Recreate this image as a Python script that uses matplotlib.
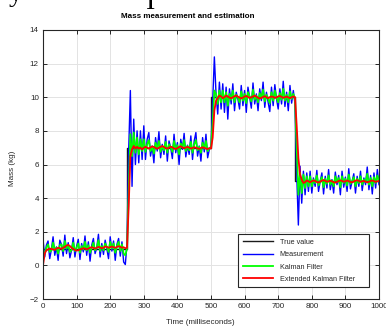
import numpy as np
import matplotlib.pyplot as plt

# sample period of the logged series (ms)
DT = 5

# true mass: step levels and the times they start
true_t = [0, 250, 500, 750, 1000]
true_v = [1, 7, 10, 5, 5]

# noisy measurement, one value every DT ms from 0 to 1000
measurement = [
    1.60, 0.50, 1.20, 1.45, 0.40, 0.95, 1.70, 0.60, 1.10, 0.30,
    1.50, 1.25, 0.55, 1.80, 0.70, 1.35, 0.45, 0.90, 1.65, 0.50,
    1.15, 1.55, 0.35, 1.30, 0.80, 1.75, 0.60, 1.40, 0.25, 1.20,
    1.60, 0.70, 1.05, 1.85, 0.50, 1.30, 0.65, 1.50, 1.00, 0.40,
    1.70, 0.85, 1.45, 0.30, 1.25, 1.60, 0.55, 1.40, 0.20, 0.05,
    1.30, 6.80, 10.4, 4.70, 8.70, 6.00, 8.00, 6.10, 8.00, 6.30, 8.30,
    6.30, 7.50, 7.90, 6.50, 7.10, 6.10, 7.60, 6.80, 7.95, 6.40,
    7.20, 6.60, 7.70, 6.20, 7.40, 7.00, 6.35, 7.80, 6.70, 7.30,
    6.00, 7.50, 6.90, 7.85, 6.45, 7.15, 6.60, 7.70, 6.30, 7.40,
    7.90, 6.50, 7.10, 6.20, 7.60, 6.75, 7.80, 6.40, 6.90,
    7.10, 9.80, 12.4, 10.2, 9.00, 10.9, 9.30, 10.8, 9.10, 10.6,
    8.70, 10.5, 9.60, 10.8, 9.20, 10.3, 9.90, 9.30, 10.7, 9.50,
    10.4, 9.10, 10.6, 10.0, 9.35, 10.85, 9.60, 10.2, 9.20, 10.5,
    9.80, 10.9, 9.40, 10.3, 9.70, 9.15, 10.6, 9.50, 10.75, 9.90,
    9.30, 10.5, 9.60, 10.95, 9.45, 10.3, 9.20, 10.7, 9.65, 10.4,
    9.60, 5.50, 2.40, 5.90, 3.70, 5.60, 4.20, 5.50, 4.40, 5.60,
    4.30, 5.20, 4.70, 5.65, 4.40, 5.00, 5.50, 4.25, 5.30, 4.60,
    5.70, 4.50, 5.10, 4.30, 5.55, 4.80, 5.35, 4.20, 5.60, 4.65,
    5.25, 4.40, 5.75, 4.55, 5.00, 5.45, 4.30, 5.30, 4.70, 5.60,
    4.45, 5.20, 4.80, 5.85, 4.50, 5.35, 4.25, 5.50, 4.60, 5.70, 4.80,
]

# Kalman filter estimate, same sampling
kalman = [
    0.30, 0.75, 1.05, 1.25, 0.80, 0.90, 1.35, 0.95, 1.05, 0.70,
    1.20, 1.25, 0.85, 1.45, 1.00, 1.20, 0.80, 0.90, 1.35, 0.85,
    1.05, 1.30, 0.75, 1.15, 0.95, 1.40, 0.90, 1.20, 0.75, 1.05,
    1.35, 0.90, 1.05, 1.50, 0.85, 1.15, 0.90, 1.30, 1.10, 0.80,
    1.40, 1.00, 1.30, 0.75, 1.15, 1.40, 0.85, 1.25, 0.70, 0.60,
    1.00, 4.50, 7.80, 6.50, 7.90, 6.70, 7.60, 6.60, 7.50, 6.80, 7.50,
    6.75, 7.20, 7.45, 6.80, 7.05, 6.65, 7.30, 6.95, 7.40, 6.75,
    7.10, 6.85, 7.35, 6.70, 7.20, 7.05, 6.75, 7.40, 6.90, 7.15,
    6.60, 7.25, 7.00, 7.45, 6.80, 7.10, 6.85, 7.35, 6.70, 7.20,
    7.45, 6.85, 7.05, 6.70, 7.30, 6.95, 7.40, 6.80, 6.95,
    7.00, 8.50, 10.4, 10.2, 9.60, 10.4, 9.70, 10.4, 9.70, 10.3,
    9.50, 10.2, 9.85, 10.4, 9.70, 10.15, 10.0, 9.70, 10.35, 9.80,
    10.2, 9.65, 10.3, 10.05, 9.75, 10.45, 9.85, 10.1, 9.70, 10.25,
    9.95, 10.45, 9.75, 10.15, 9.90, 9.65, 10.3, 9.80, 10.4, 10.0,
    9.70, 10.25, 9.85, 10.5, 9.80, 10.15, 9.70, 10.35, 9.90, 10.2,
    9.90, 7.00, 4.20, 5.50, 4.30, 5.40, 4.60, 5.30, 4.70, 5.30,
    4.70, 5.10, 4.90, 5.35, 4.75, 5.00, 5.25, 4.65, 5.15, 4.85,
    5.35, 4.80, 5.05, 4.70, 5.30, 4.95, 5.20, 4.65, 5.30, 4.90,
    5.15, 4.75, 5.40, 4.85, 5.00, 5.25, 4.70, 5.15, 4.90, 5.30,
    4.80, 5.10, 4.95, 5.45, 4.80, 5.20, 4.70, 5.25, 4.90, 5.35, 5.00,
]

# extended Kalman filter estimate, same sampling
ekf = [
    0.00, 0.70, 0.90, 0.95, 1.00, 0.98, 0.95, 0.92, 1.00, 1.05,
    1.02, 0.98, 1.05, 1.10, 1.18, 1.22, 1.15, 1.05, 0.98, 0.92,
    0.88, 0.90, 0.95, 0.98, 1.02, 1.00, 0.96, 1.00, 1.05, 1.08,
    1.04, 1.00, 1.05, 1.10, 1.06, 1.02, 1.05, 1.12, 1.10, 1.05,
    1.08, 1.12, 1.08, 1.04, 1.10, 1.14, 1.10, 1.05, 1.08, 1.02,
    1.05, 3.50, 6.50, 6.90, 7.10, 6.95, 7.05, 6.95, 7.00, 6.90, 7.00,
    7.05, 7.00, 6.95, 7.02, 7.08, 7.04, 6.98, 6.94, 7.00, 7.05,
    7.10, 7.04, 6.98, 6.95, 7.00, 7.06, 7.02, 6.96, 6.92, 6.98,
    7.04, 7.08, 7.02, 6.97, 7.00, 7.05, 7.00, 6.95, 6.98, 7.03,
    7.00, 6.96, 6.93, 6.98, 7.03, 6.99, 6.95, 6.92, 6.97,
    6.95, 7.60, 9.20, 9.80, 9.95, 10.1, 10.05, 9.95, 10.0, 10.1,
    10.05, 9.98, 9.94, 10.0, 10.06, 10.1, 10.04, 9.98, 9.93, 9.98,
    10.04, 10.08, 10.02, 9.96, 10.0, 10.05, 10.1, 10.04, 9.97, 9.92,
    9.96, 10.02, 10.06, 10.0, 9.95, 10.0, 10.05, 10.02, 9.96, 10.0,
    10.05, 10.08, 10.02, 9.97, 10.0, 10.04, 9.99, 9.95, 10.0, 10.05,
    10.0, 8.30, 6.40, 5.40, 5.10, 4.90, 4.95, 5.05, 5.00, 4.95,
    5.00, 5.05, 5.02, 4.96, 4.93, 4.98, 5.04, 5.08, 5.03, 4.97,
    5.00, 5.04, 5.00, 4.95, 4.92, 4.97, 5.02, 5.06, 5.02, 4.98,
    5.00, 5.05, 5.01, 4.96, 4.94, 4.99, 5.04, 5.07, 5.02, 4.97,
    5.00, 5.03, 4.98, 4.94, 4.97, 5.02, 5.05, 5.01, 4.97, 5.00, 5.02,
]

t = np.arange(len(measurement)) * DT

x_ticks = list(range(0, 1001, 100))
y_ticks = list(range(-2, 15, 2))

plt.rcParams["font.family"] = ["Liberation Sans", "DejaVu Sans"]
TXT = "#262626"

fig = plt.figure(figsize=(3.86, 3.27), dpi=100)
ax = fig.add_axes([43 / 386, 1 - 299 / 327, 336 / 386, 269 / 327])

ax.step(true_t, true_v, where="post", color="#1a1a1a", lw=1.0, label="True value")
ax.plot(t, measurement, color="#0000ff", lw=1.0, label="Measurement")
ax.plot(t, kalman, color="#00ff00", lw=1.3, label="Kalman Filter")
ax.plot(t, ekf, color="#ff0000", lw=1.3, label="Extended Kalman Filter")

ax.set_xlim(0, 1000)
ax.set_ylim(-2, 14)
ax.set_xticks(x_ticks)
ax.set_yticks(y_ticks)
ax.grid(True, color="#e3e3e3", lw=0.7)
ax.set_axisbelow(True)
ax.tick_params(direction="in", length=3, width=0.7, colors=TXT,
               labelsize=5.8, top=True, right=True, pad=3)
for s in ax.spines.values():
    s.set_color(TXT)
    s.set_linewidth(0.8)

fig.text(188 / 386, 1 - 16 / 327, "Mass measurement and estimation",
         ha="center", va="center", fontsize=5.8, fontweight="bold", color="black")
fig.text(200 / 386, 1 - 322 / 327, "Time (milliseconds)",
         ha="center", va="center", fontsize=5.8, color=TXT)
fig.text(12 / 386, 1 - 168 / 327, "Mass (kg)", rotation=90,
         ha="center", va="center", fontsize=5.8, color=TXT)

# bits of page text cut off at the top edge of the screenshot
fig.text(9 / 386, 1 - 1 / 327, "y", fontsize=20, family="Liberation Serif",
         ha="left", va="baseline", color="black")
fig.text(146 / 386, 1 - 9 / 327, "I", fontsize=20, family="Liberation Serif",
         ha="left", va="baseline", color="black")

leg = ax.legend(loc="lower left", bbox_to_anchor=(0.571, 0.03, 0.411, 0.20),
                mode="expand", fontsize=5.2, handlelength=4.2, handletextpad=0.9,
                labelspacing=0.75, borderpad=0.6, fancybox=False, framealpha=1,
                edgecolor=TXT)
leg.get_frame().set_linewidth(0.8)
for text in leg.get_texts():
    text.set_color(TXT)

fig.savefig("out.png", dpi=100)
